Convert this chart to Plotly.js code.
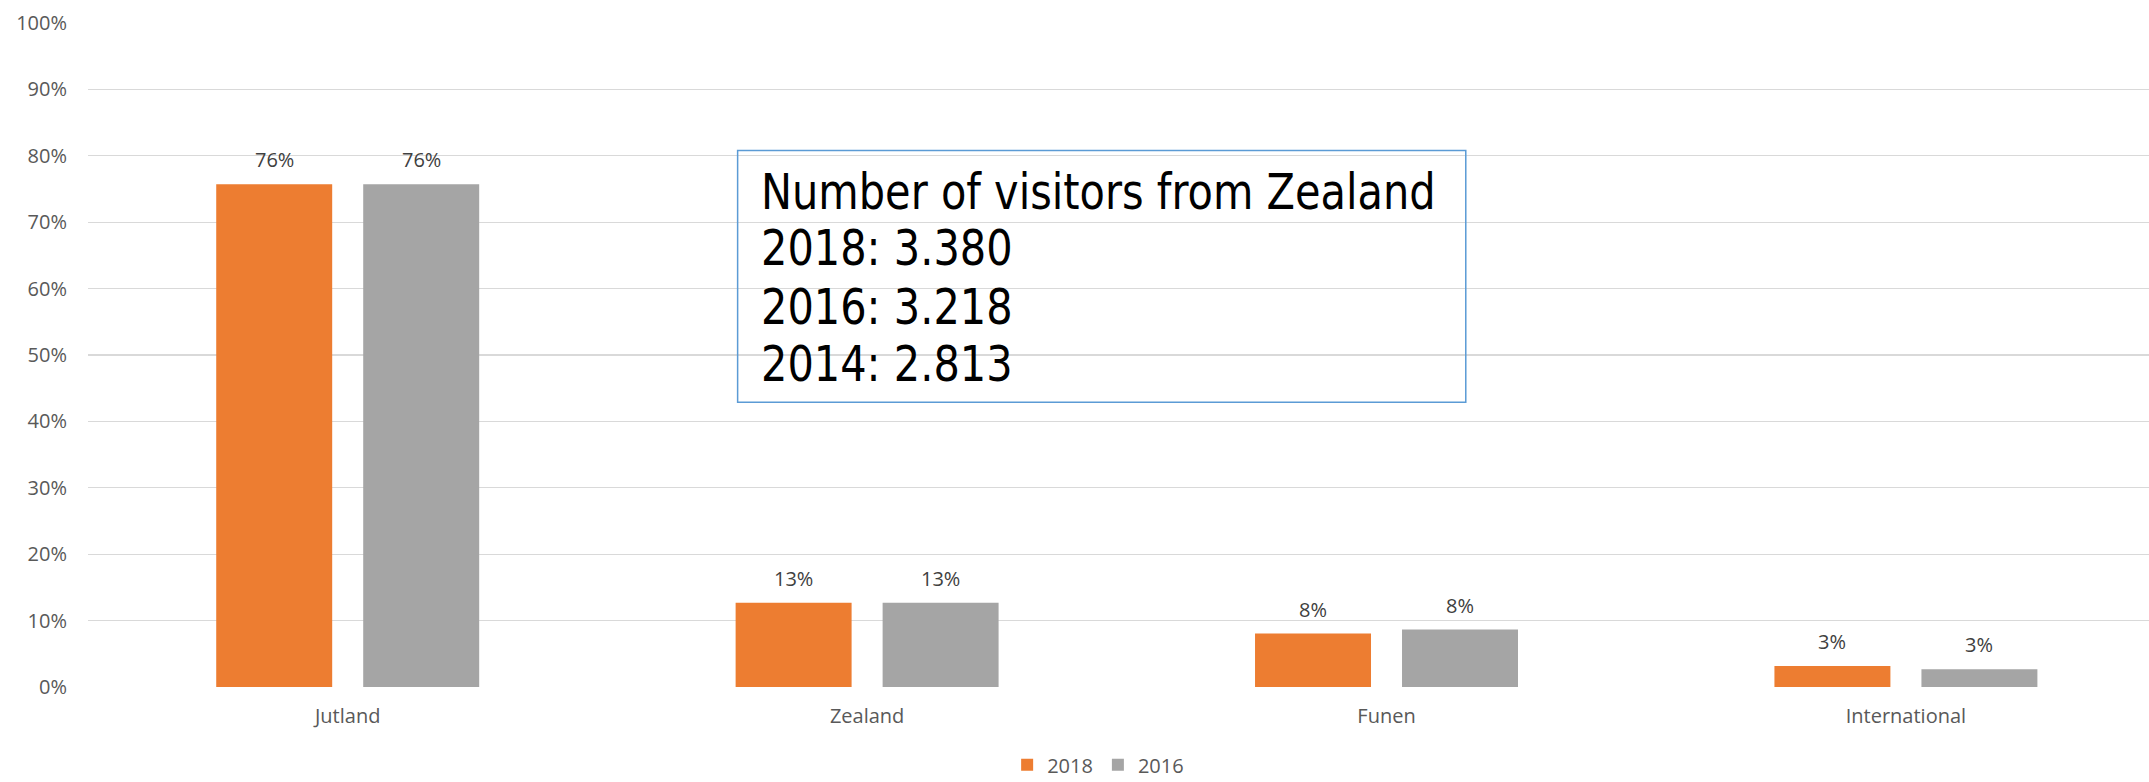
<!DOCTYPE html>
<html>
<head>
<meta charset="utf-8">
<script src="https://cdn.plot.ly/plotly-3.0.1.min.js"></script>
<style>
  html, body { margin: 0; padding: 0; background: #fff; }
  #grafico { width: 2149px; height: 782px; }
</style>
</head>
<body>
<div id="grafico"></div>
<script>
// values
const categorias = ['Jutland', 'Zealand', 'Funen', 'International'];
const valores2018 = [0.757, 0.127, 0.0805, 0.0317];
const valores2016 = [0.757, 0.127, 0.0865, 0.0267];
const etiquetas2018 = ['76%', '13%', '8%', '3%'];
const etiquetas2016 = ['76%', '13%', '8%', '3%'];
const lineasCaja = ['Number of visitors from Zealand', '2018: 3.380', '2016: 3.218', '2014: 2.813'];

const NARANJA = '#ED7D31';
const GRIS = '#A5A5A5';
const FUENTE = 'Open Sans, Arial, sans-serif';

// text box lines (narrowed later with textLength)
const centrosLineas = [0.745, 0.661, 0.573, 0.4865];
const anotaciones = lineasCaja.map((t, i) => ({
  text: t, xref: 'paper', yref: 'y', x: 0.3256, y: centrosLineas[i],
  xanchor: 'left', yanchor: 'middle', align: 'left', showarrow: false,
  font: { family: 'DejaVu Sans, sans-serif', size: 50, color: '#000' }
}));

// bar value labels, shifted onto each bar of the group
const desplazamiento = 73.5;
categorias.forEach((c, i) => {
  anotaciones.push({ text: etiquetas2018[i], x: c, y: valores2018[i], xshift: -desplazamiento, yshift: 9,
    yanchor: 'bottom', showarrow: false, font: { family: FUENTE, size: 20, color: '#404040' } });
  anotaciones.push({ text: etiquetas2016[i], x: c, y: valores2016[i], xshift: desplazamiento, yshift: 9,
    yanchor: 'bottom', showarrow: false, font: { family: FUENTE, size: 20, color: '#404040' } });
});

const trazas = [
  { type: 'bar', name: '2018', x: categorias, y: valores2018, marker: { color: NARANJA }, hoverinfo: 'skip' },
  { type: 'bar', name: '2016', x: categorias, y: valores2016, marker: { color: GRIS }, hoverinfo: 'skip' }
];

const layout = {
  width: 2149, height: 782,
  margin: { l: 88, r: 0, t: 23, b: 95 },
  barmode: 'group', bargap: 0.434, bargroupgap: 0.211,
  plot_bgcolor: '#fff', paper_bgcolor: '#fff',
  font: { family: FUENTE, size: 20, color: '#595959' },
  xaxis: {
    range: [-0.5, 3.468], showgrid: false, zeroline: false, showline: false,
    ticks: '', ticklabelstandoff: 15, tickfont: { size: 20, color: '#595959' }
  },
  yaxis: {
    range: [0, 1], dtick: 0.1, tickformat: '.0%', gridcolor: '#D9D9D9', gridwidth: 1.3,
    zeroline: false, showline: false, ticks: '', ticklabelstandoff: 20,
    tickfont: { size: 20, color: '#595959' }
  },
  shapes: [{
    type: 'rect', xref: 'paper', yref: 'y', x0: 0.3152, x1: 0.6685, y0: 0.4287, y1: 0.808,
    line: { color: '#5B9BD5', width: 1.5 }, fillcolor: 'rgba(255,255,255,0)', layer: 'above'
  }],
  annotations: anotaciones,
  showlegend: true,
  legend: {
    orientation: 'h', xref: 'container', yref: 'container',
    x: 0.511, xanchor: 'center', y: 0.022, yanchor: 'middle',
    font: { size: 20, color: '#595959' }, itemwidth: 30, traceorder: 'normal'
  }
};

Plotly.newPlot('grafico', trazas, layout, { displayModeBar: false, staticPlot: true }).then(gd => {
  // narrow the text-box lines to match the condensed face of the original
  gd.querySelectorAll('g.annotation').forEach(g => {
    const idx = parseInt(g.getAttribute('data-index'));
    if (idx < lineasCaja.length) {
      const txt = g.querySelector('text.annotation-text');
      const largo = txt.getComputedTextLength();
      txt.setAttribute('textLength', (largo * 0.83).toFixed(1));
      txt.setAttribute('lengthAdjust', 'spacingAndGlyphs');
    }
  });
});
</script>
</body>
</html>
